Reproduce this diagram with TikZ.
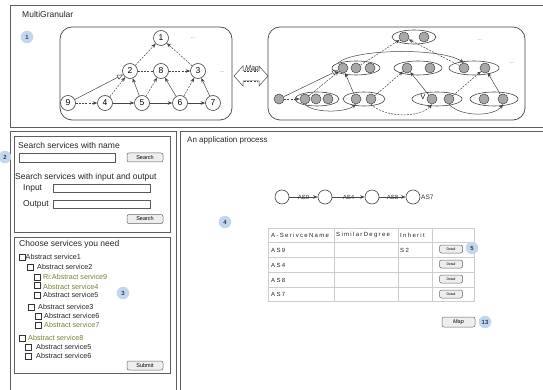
\documentclass[tikz,border=0pt]{standalone}
\usepackage{fontspec}
\setmainfont{Liberation Sans}
\newfontfamily\spacedfont[LetterSpace=22]{Liberation Sans}
\usetikzlibrary{arrows.meta,shapes.geometric}
\definecolor{badgefill}{RGB}{196,214,236}
\definecolor{badgetxt}{RGB}{45,60,90}
\definecolor{olivetxt}{RGB}{115,128,55}
\definecolor{edgecol}{RGB}{70,70,70}
\definecolor{framecol}{RGB}{95,95,95}
\definecolor{dotcol}{RGB}{135,135,205}
\definecolor{nodegray}{RGB}{168,168,168}
\definecolor{gridcol}{RGB}{205,205,205}
\definecolor{btnfill}{RGB}{238,238,238}
\tikzset{
  panel/.style={draw=framecol,line width=0.9pt},
  gbox/.style={draw=edgecol,line width=0.7pt,rounded corners=12pt},
  gnode/.style={circle,draw=edgecol,fill=white,line width=0.6pt,inner sep=0pt,minimum size=15pt,font=\fontsize{8.5}{8.5}\selectfont},
  gc/.style={circle,draw=edgecol,fill=nodegray,line width=0.5pt,inner sep=0pt,minimum size=10pt},
  ell/.style={ellipse,draw=edgecol,fill=white,line width=0.6pt,inner sep=0pt,minimum height=14pt},
  conn/.style={draw=edgecol,line width=0.5pt},
  arr/.style={conn,-{Stealth[length=4.5pt,width=3.5pt]}},
  darr/.style={arr,dash pattern=on 2pt off 1.2pt},
  dline/.style={conn,dash pattern=on 2pt off 1.2pt},
  inh/.style={conn,-{Triangle[open,length=6pt,width=5pt]}},
  badge/.style={circle,fill=badgefill,inner sep=0pt,minimum size=12.5pt,font=\fontsize{6}{6}\selectfont\bfseries,text=badgetxt},
  dots/.style={text=dotcol,font=\fontsize{6}{6}\selectfont,inner sep=0pt},
  title/.style={anchor=west,inner sep=0pt,font=\fontsize{8.5}{9}\selectfont,text=black!85},
  btn/.style={draw=black!60,rounded corners=2pt,fill=btnfill,inner sep=0pt,line width=0.5pt,font=\fontsize{5.5}{6}\selectfont},
  field/.style={draw=black!65,fill=white,line width=0.5pt},
  cb/.style={rectangle,draw=black!80,fill=white,line width=0.5pt,inner sep=0pt,minimum size=5.5pt},
  item/.style={anchor=west,inner sep=0pt,font=\fontsize{7.2}{7.5}\selectfont,text=black!85},
  oitem/.style={item,text=olivetxt},
  pc/.style={circle,draw=edgecol,fill=white,line width=0.6pt,inner sep=0pt,minimum size=14pt},
  plbl/.style={inner sep=0pt,font=\fontsize{6}{6}\selectfont,text=black!80},
  tcell/.style={anchor=west,inner sep=0pt,font=\spacedfont\fontsize{6}{6}\selectfont,text=black!85},
  gridline/.style={draw=gridcol,line width=0.7pt}
}
\begin{document}
\begin{tikzpicture}[x=1pt,y=-1pt]
\useasboundingbox (0,0) rectangle (543,390);
\fill[white] (0,0) rectangle (543,390);

% ---------- top panel ----------
\draw[panel] (10,5) rectangle (544,127);
\node[title,font=\fontsize{8.5}{9}\selectfont] (ttl) at (22,14) {MultiGranular};
\node[badge] (b1) at (27,37) {1};

% left graph
\draw[gbox] (60,27) rectangle (232,120);
\node[gnode] (n1) at (161,38) {1};
\node[gnode] (n2) at (130,71) {2};
\node[gnode] (n8) at (161,71) {8};
\node[gnode] (n3) at (198,71) {3};
\node[gnode] (n9) at (68,103) {9};
\node[gnode] (n4) at (105,103) {4};
\node[gnode] (n5) at (142,103) {5};
\node[gnode] (n6) at (180,103) {6};
\node[gnode] (n7) at (213,103) {7};
\node[dots] (d1) at (193,38) {...};
\node[dots] (d2) at (222,72) {...};
\draw[inh] (n9) -- (n2);
\draw[darr] (n9) -- (n4);
\draw[arr] (n4) -- (n5);
\draw[arr] (n5) -- (n6);
\draw[arr] (n6) -- (n7);
\draw[darr] (n4) -- (n2);
\draw[arr] (n5) -- (n2);
\draw[darr] (n5) -- (n8);
\draw[arr] (n6) -- (n8);
\draw[darr] (n6) -- (n3);
\draw[arr] (n7) -- (n3);
\draw[dline] (n2) -- (n8);
\draw[darr] (n8) -- (n3);
\draw[darr] (n2) -- (n1);
\draw[darr] (n3) -- (n1);

% map double arrow
\coordinate (mapL) at (234,76);
\coordinate (mapR) at (268,76);
\draw[conn,fill=white] (mapL) -- ++(9,-10) -- ++(0,5) -- ++(16,0) -- ++(0,-5) -- (mapR) -- ++(-9,10) -- ++(0,-5) -- ++(-16,0) -- ++(0,5) -- cycle;
\draw[white,line width=0.8pt] (244,71) -- (258,71) (244,81) -- (258,81);
\draw[dline] (244,71) -- (258,71) (244,81) -- (258,81);
\node[inner sep=0pt,font=\fontsize{7}{7}\selectfont\itshape,text=black!85] (maplbl) at (252,68.5) {Map};

% right graph
\draw[gbox] (268,27) rectangle (525,120);
\node[ell,minimum width=44pt] (E0) at (414,37) {};
\node[gc] (c01) at (404,37) {};
\node[gc] (c02) at (424,37) {};
\node[ell,minimum width=48pt] (E1) at (356,68) {};
\node[gc] (c11) at (343,68) {};
\node[gc] (c12) at (356,68) {};
\node[gc] (c13) at (370,68) {};
\node[ell,minimum width=48pt] (E2) at (418,68) {};
\node[gc] (c21) at (407,68) {};
\node[gc] (c22) at (430,68) {};
\node[ell,minimum width=50pt] (E3) at (474,68) {};
\node[gc] (c31) at (464,68) {};
\node[gc] (c32) at (485,68) {};
\node[gc] (s) at (279,99) {};
\node[ell,minimum width=44pt] (EA) at (317,99) {};
\node[gc] (ca1) at (305,99) {};
\node[gc] (ca2) at (316,99) {};
\node[gc] (ca3) at (328,99) {};
\node[ell,minimum width=42pt] (EB) at (364,99) {};
\node[gc] (cb1) at (356,99) {};
\node[gc] (cb2) at (371,99) {};
\node[ell,minimum width=50pt] (EC) at (437,99) {};
\node[inner sep=0pt,font=\fontsize{7}{7}\selectfont] (vk) at (423,97) {V};
\node[gc] (cc1) at (432,99) {};
\node[gc] (cc2) at (449,99) {};
\node[ell,minimum width=48pt] (ED) at (494,99) {};
\node[gc] (cd1) at (484,99) {};
\node[gc] (cd2) at (503,99) {};
\node[dots] (d3) at (480,40) {...};
\node[dots] (d4) at (512,63) {...};
\draw[arr] (E1.165) .. controls (352,49) and (440,47) .. (c31.north);
\draw[inh] (s) -- (c11);
\draw[darr] (s) -- (ca1);
\draw[darr] (ca1) -- (c11);
\draw[arr] (cb1) -- (c11);
\draw[darr] (cb2) -- (c21);
\draw[arr] (cc1) -- (c21);
\draw[darr] (cc2) -- (c32);
\draw[arr] (cd2) -- (c32);
\draw[darr] (c12) -- (c01);
\draw[darr] (c31) -- (c01);
\draw[arr] (ca1.south) .. controls (312,113) and (345,113) .. (cb1.south);
\draw[darr] (cb2.south) .. controls (385,118) and (420,118) .. (cc1.south);
\draw[arr] (cc2.south) .. controls (460,117) and (494,117) .. (cd2.south);

% ---------- left column ----------
\draw[panel] (10,131) rectangle (176,392);
\node[badge] (b2) at (5,157) {2};
\draw[panel,line width=0.7pt] (14,136) rectangle (170,232);
\node[title] (t1) at (18,145) {Search services with name};
\draw[field] (19,153) rectangle (115,162);
\node[btn,minimum width=36pt,minimum height=9pt] (s1) at (145,157.5) {Search};
\node[title] (t2) at (15,177) {Search services with input and output};
\node[title] (tin) at (23,188) {Input};
\draw[field] (53,184) rectangle (150,192);
\node[title] (tout) at (23,204) {Output};
\draw[field] (53,200) rectangle (150,208);
\node[btn,minimum width=36pt,minimum height=9pt] (s2) at (145,219) {Search};

\draw[panel,line width=0.7pt] (14,237) rectangle (170,373);
\node[title] (t3) at (19,244) {Choose services you need};
\node[cb] (k1) at (22,257) {};   \node[item]  (i1) at (25.5,257) {Abstract service1};
\node[cb] (k2) at (30,267) {};   \node[item]  (i2) at (37,267) {Abstract service2};
\node[cb] (k3) at (37,277) {};   \node[oitem] (i3) at (43,277) {Ri:Abstract service9};
\node[cb] (k4) at (37,285) {};   \node[oitem] (i4) at (43,287) {Abstract service4};
\node[cb] (k5) at (37,295) {};   \node[item]  (i5) at (43,295) {Abstract service5};
\node[cb] (k6) at (31,307) {};   \node[item]  (i6) at (38,307) {Abstract service3};
\node[cb] (k7) at (38,316) {};   \node[item]  (i7) at (44,316) {Abstract service6};
\node[cb] (k8) at (38,325) {};   \node[oitem] (i8) at (44,325) {Abstract service7};
\node[cb] (k9) at (22,338) {};   \node[oitem] (i9) at (28,338) {Abstract service8};
\node[cb] (k10) at (28,347) {};  \node[item]  (i10) at (36,347) {Abstract service5};
\node[cb] (k11) at (28,356) {};  \node[item]  (i11) at (36,356) {Abstract service6};
\node[btn,minimum width=36pt,minimum height=9pt] (sub) at (145,365.5) {Submit};
\node[badge] (b3) at (123,293) {3};

% ---------- right panel ----------
\draw[panel] (180,131) rectangle (544,392);
\node[title,font=\fontsize{8}{8.5}\selectfont] (t4) at (187,140) {An application process};
\node[pc] (p1) at (282,197) {};
\node[pc] (p2) at (325,197) {};
\node[pc] (p3) at (372,197) {};
\node[pc] (p4) at (413,197) {};
\draw[arr] (p1) -- node[plbl] (l1) {AS9} (p2);
\draw[arr] (p2) -- node[plbl] (l2) {AS4} (p3);
\draw[arr] (p3) -- node[plbl] (l3) {AS8} (p4);
\node[plbl,anchor=west,font=\fontsize{6.5}{6.5}\selectfont] (l4) at (421,197) {AS7};
\node[badge] (b4) at (225,222) {4};

% table
\draw[gridline] (268,228) rectangle (474,301);
\foreach \yy in {242,257,272,287} \draw[gridline] (268,\yy) -- (474,\yy);
\foreach \xx in {334,398,432} \draw[gridline] (\xx,228) -- (\xx,301);
\begin{scope}
\clip (268,228) rectangle (333.5,242);
\node[tcell] (h1) at (271,235) {A-SerivceName};
\end{scope}
\node[tcell] (h2) at (336,235) {SimilarDegree};
\node[tcell] (h3) at (400,235) {Inherit};
\node[tcell] (r1) at (271,250) {AS9};
\node[tcell] (r1c) at (400,250) {S2};
\node[tcell] (r2) at (271,265) {AS4};
\node[tcell] (r3) at (271,280) {AS8};
\node[tcell] (r4) at (271,294) {AS7};
\foreach \yy/\nm in {249/da,264/db,279/dc,294/dd}
  \node[btn,minimum width=23pt,minimum height=8pt,font=\fontsize{3.5}{4}\selectfont] (\nm) at (451,\yy) {Detail};
\node[badge] (b5) at (472,248) {5};
\node[btn,minimum width=33pt,minimum height=10pt,font=\fontsize{5.5}{6}\selectfont\itshape] (mapbtn) at (458.5,322) {Map};
\node[badge] (b13) at (485,322) {13};
\end{tikzpicture}
\end{document}
